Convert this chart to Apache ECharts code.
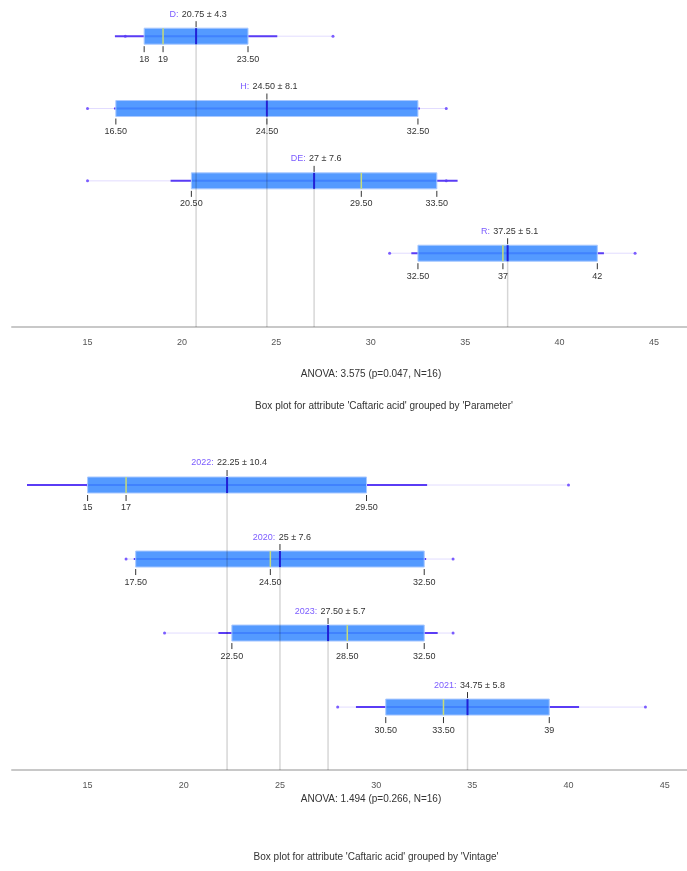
<!DOCTYPE html>
<html>
<head>
<meta charset="utf-8">
<script src="https://cdn.jsdelivr.net/npm/echarts@6/dist/echarts.min.js"></script>
<style>
html, body { margin: 0; padding: 0; background: #fff; }
#chart { width: 687px; height: 871px; }
</style>
</head>
<body>
<div id="chart"></div>
<script>
var chart = echarts.init(document.getElementById('chart'));

// box plot grouped by Parameter
var paramGroups = ['D', 'H', 'DE', 'R'];
var paramMin    = [17, 15, 15, 31];
var paramQ1     = [18, 16.5, 20.5, 32.5];
var paramMedian = [19, 24.5, 29.5, 37];
var paramQ3     = [23.5, 32.5, 33.5, 42];
var paramMax    = [28, 34, 34, 44];
var paramMean   = [20.75, 24.5, 27, 37.25];
var paramSd     = [4.3, 8.1, 7.6, 5.1];

// box plot grouped by Vintage
var vintGroups = ['2022', '2020', '2023', '2021'];
var vintMin    = [15, 17, 19, 28];
var vintQ1     = [15, 17.5, 22.5, 30.5];
var vintMedian = [17, 24.5, 28.5, 33.5];
var vintQ3     = [29.5, 32.5, 32.5, 39];
var vintMax    = [40, 34, 34, 44];
var vintMean   = [22.25, 25, 27.5, 34.75];
var vintSd     = [10.4, 7.6, 5.7, 5.8];

var xTicks = [15, 20, 25, 30, 35, 40, 45];

var anovaParam = 'ANOVA: 3.575 (p=0.047, N=16)';
var anovaVint = 'ANOVA: 1.494 (p=0.266, N=16)';
var titleParam = "Box plot for attribute 'Caftaric acid' grouped by 'Parameter'";
var titleVint = "Box plot for attribute 'Caftaric acid' grouped by 'Vintage'";

var FONT = 'Liberation Sans, Arial, sans-serif';

function fmt(v) {
  return v % 1 === 0 ? String(v) : v.toFixed(2);
}

function makeData(min, q1, med, q3, max, mean, sd) {
  var d = [];
  for (var i = 0; i < min.length; i++) {
    d.push([i, min[i], q1[i], med[i], q3[i], max[i], mean[i], sd[i]]);
  }
  return d;
}

function renderBox(groups) {
  return function (params, api) {
    var i = api.value(0);
    var cs = params.coordSys;
    var yc = api.coord([0, i])[1];
    var bottom = cs.y + cs.height;
    function px(v) { return api.coord([v, i])[0]; }
    var mn = api.value(1), q1 = api.value(2), med = api.value(3),
        q3 = api.value(4), mx = api.value(5), mean = api.value(6), sd = api.value(7);
    var h = 8;
    var kids = [];
    // min - max
    kids.push({ type: 'line', z2: 1, shape: { x1: px(mn), y1: yc, x2: px(mx), y2: yc },
      style: { stroke: '#e2dcff', lineWidth: 1 } });
    kids.push({ type: 'circle', z2: 2, shape: { cx: px(mn), cy: yc, r: 1.5 }, style: { fill: '#7a5cff' } });
    kids.push({ type: 'circle', z2: 2, shape: { cx: px(mx), cy: yc, r: 1.5 }, style: { fill: '#7a5cff' } });
    // mean +- sd
    kids.push({ type: 'line', z2: 3, shape: { x1: px(mean - sd), y1: yc, x2: px(mean + sd), y2: yc },
      style: { stroke: '#5a3cf5', lineWidth: 2 } });
    // box
    kids.push({ type: 'rect', z2: 4, shape: { x: px(q1), y: yc - h, width: px(q3) - px(q1), height: 2 * h },
      style: { fill: 'rgba(60,140,255,0.88)', stroke: '#a9c9ff', lineWidth: 1 } });
    // mean line to axis
    kids.push({ type: 'line', z2: 6, shape: { x1: px(mean), y1: yc + h, x2: px(mean), y2: bottom },
      style: { stroke: 'rgba(0,0,0,0.16)', lineWidth: 1.5 } });
    // median
    kids.push({ type: 'line', z2: 7, shape: { x1: px(med), y1: yc - h, x2: px(med), y2: yc + h },
      style: { stroke: '#c7dc78', lineWidth: 1.5 } });
    // mean
    kids.push({ type: 'line', z2: 8, shape: { x1: px(mean), y1: yc - h, x2: px(mean), y2: yc + h },
      style: { stroke: '#2121d6', lineWidth: 2 } });
    kids.push({ type: 'line', z2: 8, shape: { x1: px(mean), y1: yc - 15, x2: px(mean), y2: yc - h - 1 },
      style: { stroke: '#333', lineWidth: 1 } });
    kids.push({ type: 'text', z2: 9, style: {
      text: '{g|' + groups[i] + ':} {v|' + fmt(mean) + ' ± ' + sd.toFixed(1) + '}',
      x: px(mean) + 2, y: yc - 22, align: 'center', verticalAlign: 'middle',
      rich: {
        g: { fill: '#7b5cff', fontSize: 9, fontFamily: FONT },
        v: { fill: '#333', fontSize: 9, fontFamily: FONT }
      }
    } });
    // q1 / median / q3 ticks and labels
    var marks = [q1, med, q3];
    for (var k = 0; k < marks.length; k++) {
      var x = px(marks[k]);
      kids.push({ type: 'line', z2: 8, shape: { x1: x, y1: yc + h + 2, x2: x, y2: yc + h + 8 },
        style: { stroke: '#333', lineWidth: 1 } });
      kids.push({ type: 'text', z2: 9, style: {
        text: fmt(marks[k]), x: x, y: yc + 23, align: 'center', verticalAlign: 'middle',
        fill: '#333', fontSize: 9, fontFamily: FONT
      } });
    }
    return { type: 'group', children: kids };
  };
}

function xAxisOpt(idx, min, max) {
  return {
    type: 'value', gridIndex: idx, min: min, max: max,
    splitLine: { show: false },
    axisLine: { onZero: false, lineStyle: { color: '#c8c8c8', width: 2 } },
    axisTick: { show: false },
    axisLabel: { customValues: xTicks, color: '#555', fontSize: 9, fontFamily: FONT, margin: 11 }
  };
}

function titleOpt(text, x, y) {
  return {
    text: text, left: x, top: y, textAlign: 'center', padding: 0,
    textStyle: { fontSize: 10, fontWeight: 'normal', color: '#333', fontFamily: FONT }
  };
}

var option = {
  animation: false,
  title: [
    titleOpt(anovaParam, 371, 369),
    titleOpt(titleParam, 384, 401),
    titleOpt(anovaVint, 371, 794),
    titleOpt(titleVint, 376, 852)
  ],
  grid: [
    { left: 12, right: 0, top: 0, height: 327 },
    { left: 12, right: 0, top: 448, height: 322 }
  ],
  xAxis: [xAxisOpt(0, 11, 46.75), xAxisOpt(1, 11.07, 46.16)],
  yAxis: [
    { type: 'value', gridIndex: 0, inverse: true, min: -0.5, max: 4.02, show: false },
    { type: 'value', gridIndex: 1, inverse: true, min: -0.5, max: 3.85, show: false }
  ],
  series: [
    {
      type: 'custom', xAxisIndex: 0, yAxisIndex: 0,
      renderItem: renderBox(paramGroups),
      encode: { x: [1, 2, 3, 4, 5], y: 0 },
      data: makeData(paramMin, paramQ1, paramMedian, paramQ3, paramMax, paramMean, paramSd)
    },
    {
      type: 'custom', xAxisIndex: 1, yAxisIndex: 1,
      renderItem: renderBox(vintGroups),
      encode: { x: [1, 2, 3, 4, 5], y: 0 },
      data: makeData(vintMin, vintQ1, vintMedian, vintQ3, vintMax, vintMean, vintSd)
    }
  ]
};

chart.setOption(option);
</script>
</body>
</html>
